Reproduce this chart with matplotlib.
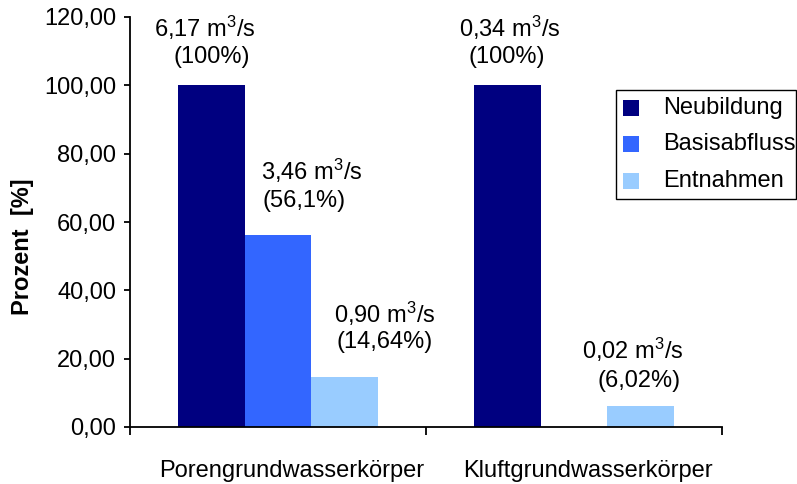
import numpy as np
import matplotlib
matplotlib.use("Agg")
import matplotlib.pyplot as plt
from matplotlib.patches import Rectangle
from matplotlib.transforms import ScaledTranslation

plt.rcParams['font.family'] = ['Liberation Sans', 'DejaVu Sans']
plt.rcParams['mathtext.fontset'] = 'custom'
plt.rcParams['mathtext.rm'] = 'Liberation Sans'
plt.rcParams['mathtext.default'] = 'regular'

# --- data -------------------------------------------------------------
categories = ["Porengrundwasserkörper", "Kluftgrundwasserkörper"]
series_names = ["Neubildung", "Basisabfluss", "Entnahmen"]
neubildung = [100.0, 100.0]
basisabfluss = [56.1, np.nan]
entnahmen = [14.64, 6.02]
series_values = [neubildung, basisabfluss, entnahmen]

flow_labels = [["6,17 m$^3$/s", "0,34 m$^3$/s"],
               ["3,46 m$^3$/s", None],
               ["0,90 m$^3$/s", "0,02 m$^3$/s"]]
share_labels = [["(100%)", "(100%)"],
                ["(56,1%)", None],
                ["(14,64%)", "(6,02%)"]]

y_ticks = [0, 20, 40, 60, 80, 100, 120]

# --- styling / layout -------------------------------------------------
colors = ["#000080", "#3366FF", "#99CCFF"]
bar_width = 0.225
FS = 17

# label offsets in pixels from the bar's top centre: (dx1, dy1, dx2, dy2)
label_offsets = [[(-7, 48, 0, 22), (2, 48, -1, 22)],
                 [(34, 55, 26, 28), None],
                 [(40, 54, 40, 29), (-8, 48, -2, 19)]]

W, H = 797, 484
fig = plt.figure(figsize=(W / 100, H / 100), dpi=100)
ax = fig.add_axes([130 / W, (H - 427) / H, 592 / W, 410 / H])

x = np.arange(len(categories))
for i, (name, vals, col) in enumerate(zip(series_names, series_values, colors)):
    xpos = x + (i - 1) * bar_width
    ax.bar(xpos, vals, width=bar_width, color=col, linewidth=0, label=name)
    for j, v in enumerate(vals):
        if flow_labels[i][j] is None:
            continue
        dx1, dy1, dx2, dy2 = label_offsets[i][j]
        ax.annotate(flow_labels[i][j], xy=(xpos[j], v), xytext=(dx1, dy1),
                    textcoords="offset pixels", ha="center", va="baseline",
                    fontsize=FS)
        ax.annotate(share_labels[i][j], xy=(xpos[j], v), xytext=(dx2, dy2),
                    textcoords="offset pixels", ha="center", va="baseline",
                    fontsize=FS)

ax.set_xlim(-0.5, len(categories) - 0.5)
ax.set_ylim(0, 120)

ax.set_yticks(y_ticks)
ax.set_yticklabels([f"{t:.2f}".replace(".", ",") for t in y_ticks], fontsize=FS)
ax.tick_params(axis="y", direction="out", length=4, width=1.3, pad=6)

# category boundaries carry the tick marks, names sit between them
ax.set_xticks(np.arange(len(categories) + 1) - 0.5)
ax.set_xticklabels([])
ax.tick_params(axis="x", which="major", direction="out", length=6, width=1.3)
ax.set_xticks(x, minor=True)
ax.set_xticklabels(categories, minor=True, fontsize=FS)
ax.tick_params(axis="x", which="minor", length=0, pad=24)
for lab in ax.xaxis.get_minorticklabels():
    lab.set_transform(lab.get_transform() + ScaledTranslation(0.14, 0, fig.dpi_scale_trans))

for s in ["top", "right"]:
    ax.spines[s].set_visible(False)
for s in ["left", "bottom"]:
    ax.spines[s].set_linewidth(1.3)
    ax.spines[s].set_color("black")

fig.text(23 / W, 1 - 247 / H, "Prozent  [%]", rotation=90, fontsize=FS,
         fontweight="bold", ha="center", va="center")

# legend box
fig.patches.append(Rectangle((616 / W, 1 - 199 / H), 180 / W, 109 / H,
                             transform=fig.transFigure, fill=False,
                             edgecolor="black", linewidth=1.0))
row_y = [108, 144, 180.5]
for name, col, ry in zip(series_names, colors, row_y):
    fig.patches.append(Rectangle((623 / W, 1 - (ry + 8) / H), 16 / W, 16 / H,
                                 transform=fig.transFigure, facecolor=col,
                                 edgecolor="none"))
    fig.text(663 / W, 1 - ry / H, name, fontsize=FS, ha="left", va="center")

fig.savefig("out.png", dpi=100)
